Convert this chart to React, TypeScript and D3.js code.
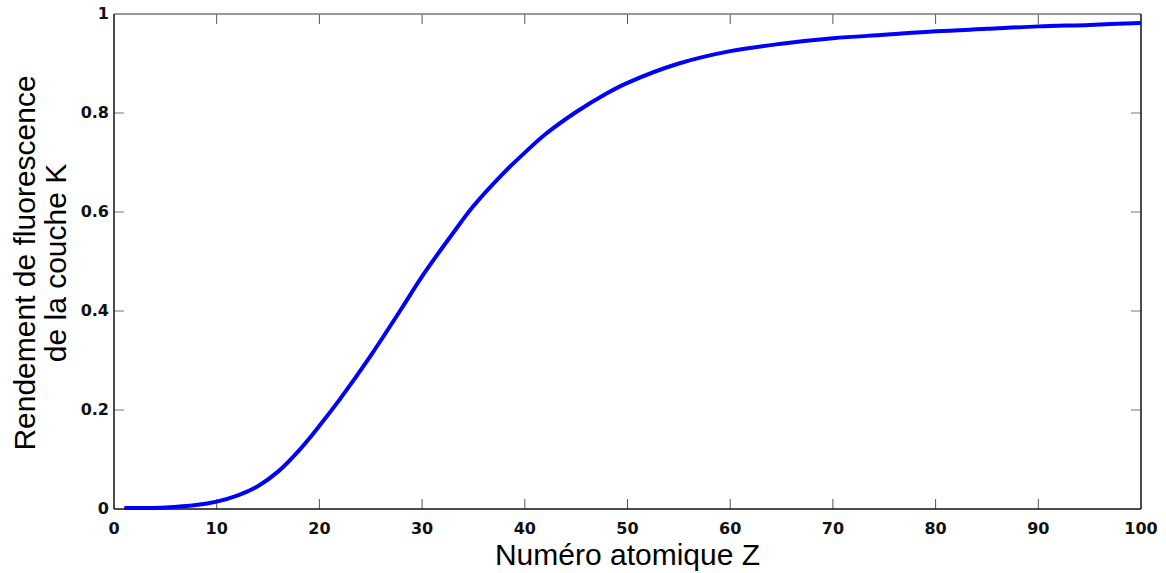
import React from 'react';
import * as d3 from 'd3';

// Z atomique et rendement de fluorescence K
const atomicNumbers = [1, 3, 5, 8, 10, 12, 14, 16, 18, 20, 22, 25, 28, 30, 33, 35, 38, 40, 42, 45, 48, 50, 55, 60, 65, 70, 75, 80, 85, 90, 95, 100];
const kYield = [0.002, 0.002, 0.003, 0.008, 0.015, 0.027, 0.046, 0.076, 0.118, 0.168, 0.222, 0.31, 0.405, 0.47, 0.557, 0.612, 0.68, 0.72, 0.757, 0.802, 0.84, 0.861, 0.9, 0.925, 0.94, 0.951, 0.958, 0.965, 0.97, 0.975, 0.978, 0.982];

const xTicks = [0, 10, 20, 30, 40, 50, 60, 70, 80, 90, 100];
const yTicks = [0, 0.2, 0.4, 0.6, 0.8, 1];

const width = 1166;
const height = 573;
const margin = { top: 14, right: 25, bottom: 64, left: 114 };
const innerW = width - margin.left - margin.right;
const innerH = height - margin.top - margin.bottom;

const tickFont = '"DejaVu Sans", sans-serif';
const labelFont = '"Liberation Sans", Arial, sans-serif';

const App: React.FC = () => {
    const x = d3.scaleLinear().domain([0, 100]).range([0, innerW]);
    const y = d3.scaleLinear().domain([0, 1]).range([innerH, 0]);

    const points = atomicNumbers.map((z, i) => [z, kYield[i]] as [number, number]);
    const line = d3.line<[number, number]>()
        .x(d => x(d[0]))
        .y(d => y(d[1]))
        .curve(d3.curveCatmullRom.alpha(0.5));

    const tickLen = 10;

    return (
        <div style={{ position: 'fixed', left: 0, top: 0 }}>
            <svg width={width} height={height} style={{ display: 'block', background: '#fff' }}>
                <g transform={`translate(${margin.left}, ${margin.top})`}>
                    {/* ticks on all four sides, pointing inward */}
                    {xTicks.slice(1, -1).map(t => (
                        <g key={'xt' + t} stroke="#555" strokeWidth={1}>
                            <line x1={x(t)} x2={x(t)} y1={innerH} y2={innerH - tickLen} />
                            <line x1={x(t)} x2={x(t)} y1={0} y2={tickLen} />
                        </g>
                    ))}
                    {yTicks.slice(1, -1).map(t => (
                        <g key={'yt' + t} stroke="#777" strokeWidth={1}>
                            <line x1={0} x2={tickLen} y1={y(t)} y2={y(t)} />
                            <line x1={innerW} x2={innerW - tickLen} y1={y(t)} y2={y(t)} />
                        </g>
                    ))}

                    {/* frame */}
                    <line x1={0} x2={innerW} y1={0} y2={0} stroke="#777" strokeWidth={1.5} />
                    <line x1={0} x2={0} y1={0} y2={innerH} stroke="#111" strokeWidth={1.5} />
                    <line x1={0} x2={innerW} y1={innerH} y2={innerH} stroke="#111" strokeWidth={1.5} />
                    <line x1={innerW} x2={innerW} y1={0} y2={innerH} stroke="#111" strokeWidth={1.5} />

                    <path d={line(points) || ''} fill="none" stroke="#0000ff" strokeWidth={4} strokeLinejoin="round" />

                    {xTicks.map(t => (
                        <text
                            key={'xl' + t}
                            x={x(t)}
                            y={innerH + 25}
                            textAnchor="middle"
                            fontFamily={tickFont}
                            fontWeight="bold"
                            fontSize="16px"
                            fill="#111"
                        >
                            {t}
                        </text>
                    ))}
                    {yTicks.map(t => (
                        <text
                            key={'yl' + t}
                            x={-5}
                            y={y(t)}
                            textAnchor="end"
                            dominantBaseline="middle"
                            fontFamily={tickFont}
                            fontWeight="bold"
                            fontSize="16px"
                            fill="#111"
                        >
                            {t}
                        </text>
                    ))}
                </g>

                <text
                    x={margin.left + innerW / 2}
                    y={565}
                    textAnchor="middle"
                    fontFamily={labelFont}
                    fontSize="30px"
                    fill="#000"
                >
                    Numéro atomique Z
                </text>

                <g transform={`translate(0, 263) rotate(-90)`} fontFamily={labelFont} fontSize="30px" fill="#000" textAnchor="middle">
                    <text x={0} y={35}>Rendement de fluorescence</text>
                    <text x={0} y={66}>de la couche K</text>
                </g>
            </svg>
        </div>
    );
};

export default App;
